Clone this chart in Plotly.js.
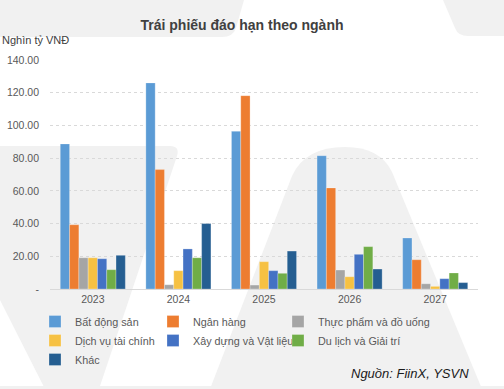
<!DOCTYPE html>
<html>
<head>
<meta charset="utf-8">
<script src="https://cdn.plot.ly/plotly-3.0.1.min.js"></script>
<style>
html,body{margin:0;padding:0;background:#fff;}
#wrap{position:relative;width:504px;height:389px;overflow:hidden;}
#bg{position:absolute;left:0;top:0;}
#chart{position:absolute;left:0;top:0;width:504px;height:389px;}
</style>
</head>
<body>
<div id="wrap">
<svg id="bg" width="504" height="389" viewBox="0 0 504 389">
  <g fill="#f1f1f1">
    <path d="M0,0 H244 L236,28 Q233,37 222,37 H0 Z"/>
    <path d="M443,0 H504 V36 H468 Q458,36 455,28 Z"/>
    <path d="M0,146 H170 Q180,146 177,156 L99,389 H45 L0,300 Z"/>
    <path d="M210,389 L292,176 Q305,147 345,147 Q380,147 392,172 L482,389 Z"/>
    <rect x="0" y="386" width="504" height="3"/>
  </g>
</svg>
<div id="chart"></div>
</div>
<script>
const years = ['2023', '2024', '2025', '2026', '2027'];
const seriesNames = ['Bất động sản', 'Ngân hàng', 'Thực phẩm và đồ uống', 'Dịch vụ tài chính', 'Xây dựng và Vật liệu', 'Du lịch và Giải trí', 'Khác'];
const batDongSan = [88.7, 126.0, 96.4, 81.5, 31.2];
const nganHang = [39.3, 73.0, 118.2, 61.8, 17.9];
const thucPham = [19.1, 2.6, 2.4, 11.6, 3.2];
const dichVuTaiChinh = [19.1, 11.2, 16.7, 7.5, 1.6];
const xayDung = [18.5, 24.5, 11.2, 21.2, 6.3];
const duLich = [11.8, 19.1, 9.6, 25.9, 9.8];
const khac = [20.6, 40.0, 23.2, 12.2, 3.9];
const yTickVals = [0, 20, 40, 60, 80, 100, 120, 140];
const yTickText = ['-', '20.00', '40.00', '60.00', '80.00', '100.00', '120.00', '140.00'];

const seriesValues = [batDongSan, nganHang, thucPham, dichVuTaiChinh, xayDung, duLich, khac];
const colors = ['#5B9BD5', '#ED7D31', '#A5A5A5', '#F6C143', '#4472C4', '#70AD47', '#255E91'];
// legend column for each series (3 columns, filled row by row)
const legendIds = ['legend', 'legend2', 'legend3'];

const traces = seriesValues.map((vals, i) => ({
  type: 'bar',
  name: seriesNames[i],
  x: years,
  y: vals,
  legend: legendIds[i % 3],
  marker: {color: colors[i], line: {color: 'rgba(255,255,255,0.5)', width: 0.5}},
  hoverinfo: 'x+y+name'
}));

const fontFam = 'Liberation Sans, Arial, sans-serif';
const legendBase = (px) => ({
  orientation: 'v',
  x: (px - 50) / 428, xanchor: 'left',
  y: 1 - 307/389, yref: 'container', yanchor: 'top',
  itemwidth: 30,
  tracegroupgap: 0,
  traceorder: 'normal',
  font: {size: 10.8, color: '#595959', family: fontFam},
  bgcolor: 'rgba(0,0,0,0)',
  borderwidth: 0
});

const layout = {
  width: 504,
  height: 389,
  margin: {l: 50, r: 26, t: 60, b: 100},
  paper_bgcolor: 'rgba(0,0,0,0)',
  plot_bgcolor: 'rgba(0,0,0,0)',
  font: {family: fontFam, color: '#595959', size: 11},
  barmode: 'group',
  bargap: 0.24,
  bargroupgap: 0,
  title: {
    text: '<b>Trái phiếu đáo hạn theo ngành</b>',
    font: {family: fontFam, size: 14, color: '#404040'},
    x: (242 - 50) / 428, xref: 'paper', xanchor: 'center',
    y: 1 - 25/389, yref: 'container', yanchor: 'middle'
  },
  xaxis: {
    type: 'category',
    showgrid: false,
    showline: true,
    linecolor: '#d9d9d9',
    linewidth: 1,
    ticks: '',
    tickfont: {size: 10.5, color: '#595959'},
    fixedrange: true
  },
  yaxis: {
    range: [0, 140],
    tickvals: yTickVals,
    ticktext: yTickText,
    showgrid: true,
    gridcolor: '#d9d9d9',
    griddash: 'dot',
    gridwidth: 1,
    zeroline: false,
    showline: false,
    ticks: '',
    ticklabelstandoff: 10,
    tickfont: {size: 10.5, color: '#595959'},
    fixedrange: true
  },
  showlegend: true,
  legend: legendBase(35),
  legend2: legendBase(153),
  legend3: legendBase(278),
  annotations: [
    {
      text: 'Nghìn tỷ VNĐ',
      xref: 'paper', yref: 'paper',
      x: -50/428, y: (389 - 100 - 40) / 229 ,
      xanchor: 'left', yanchor: 'middle',
      showarrow: false,
      font: {size: 11, color: '#404040', family: fontFam}
    },
    {
      text: '<i>Nguồn: FiinX, YSVN</i>',
      xref: 'paper', yref: 'paper',
      x: (471 - 50) / 428, y: -(374 - 289) / 229,
      xanchor: 'right', yanchor: 'middle',
      showarrow: false,
      font: {size: 13, color: '#1a1a1a', family: fontFam}
    }
  ]
};

Plotly.newPlot('chart', traces, layout, {displayModeBar: false, staticPlot: true});
</script>
</body>
</html>
